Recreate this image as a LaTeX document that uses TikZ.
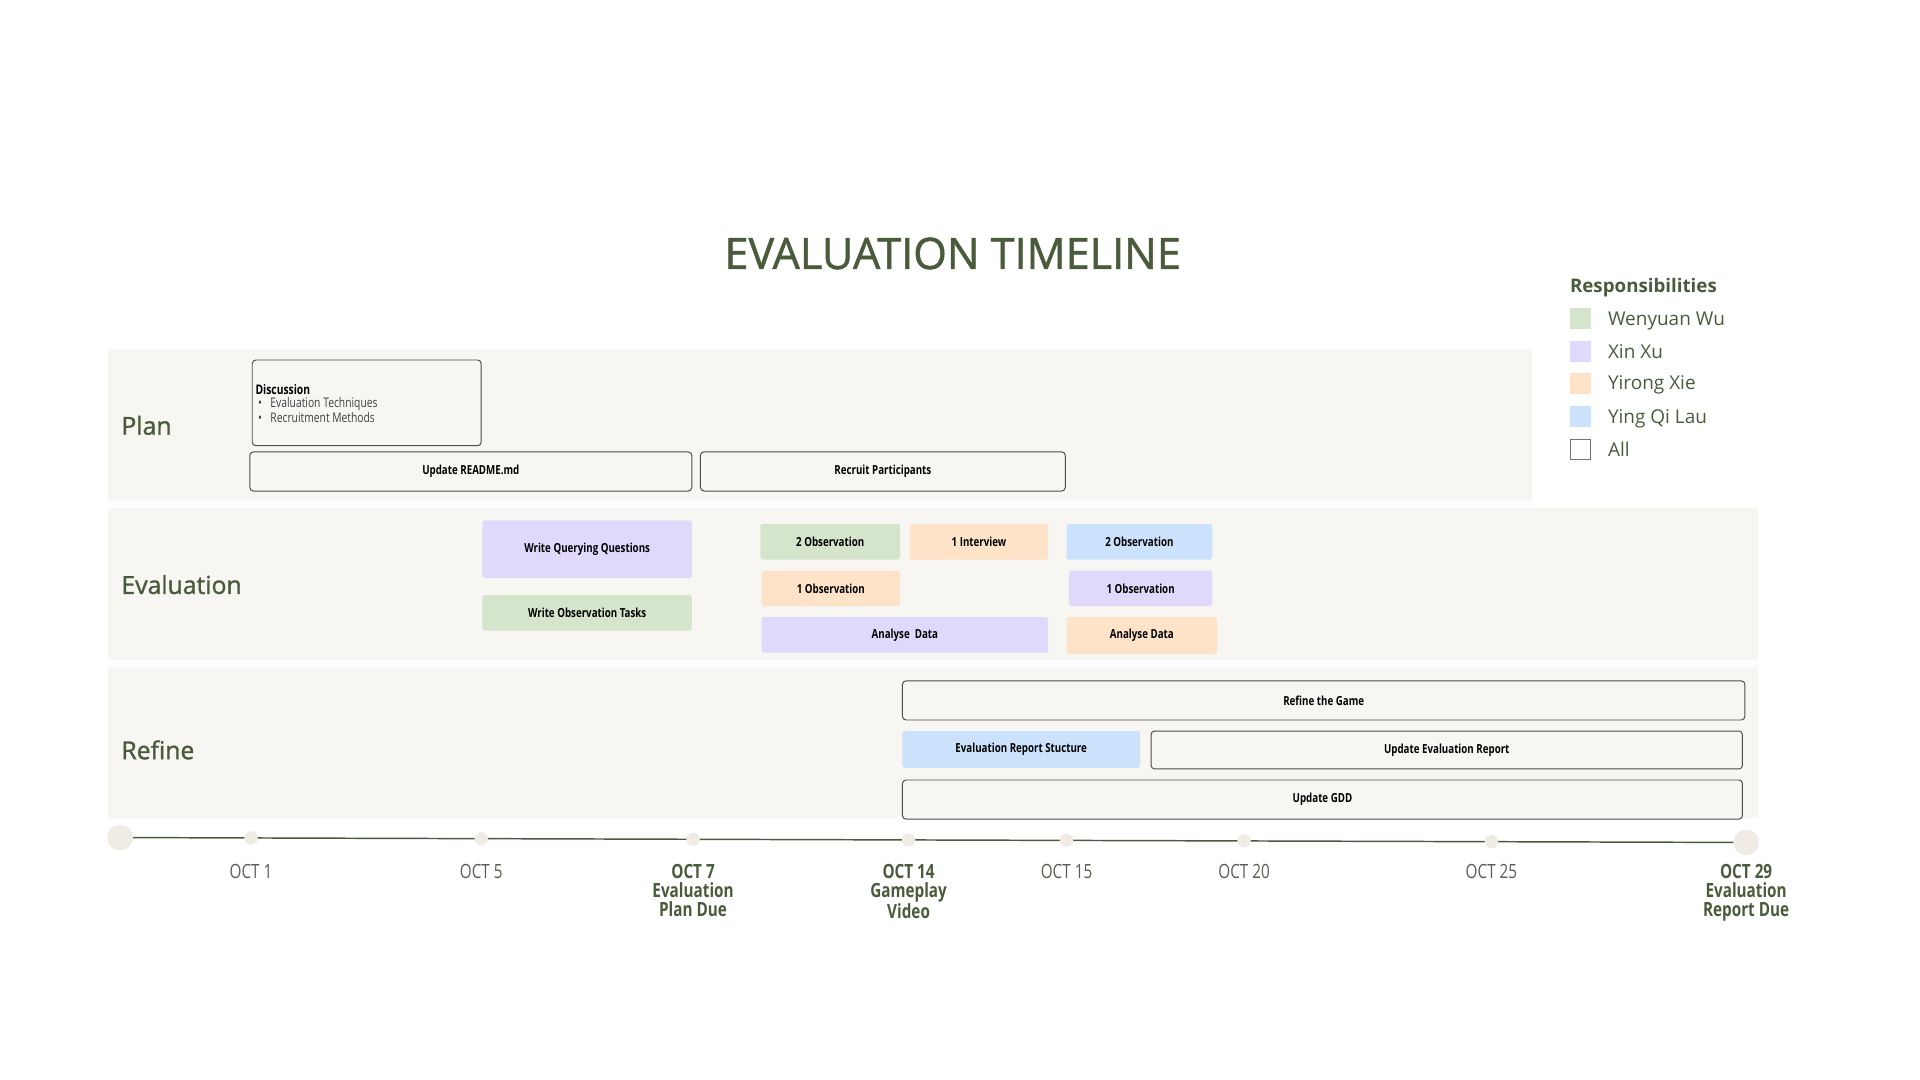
\documentclass[tikz,border=0pt]{standalone}
\usepackage{fontspec}
\setmainfont{Open Sans}
\newfontfamily\estrecha[FakeStretch=0.78]{Open Sans}
\newfontfamily\gruesa[FakeBold=1.2]{Open Sans}
\usetikzlibrary{positioning}
\definecolor{verdeosc}{HTML}{4A5B3B}
\definecolor{grisfecha}{HTML}{585D52}
\definecolor{fondo}{HTML}{F7F6F2}
\definecolor{verde}{HTML}{D5E5CC}
\definecolor{morado}{HTML}{E0D9FB}
\definecolor{naranja}{HTML}{FEE3C9}
\definecolor{azul}{HTML}{CCE2FC}
\definecolor{punto}{HTML}{F0ECE5}
\tikzstyle{panel} = [fill=fondo]
\tikzstyle{etapa} = [text=verdeosc, anchor=base west, inner sep=0pt, font=\gruesa\fontsize{20.2}{24}\selectfont]
\tikzstyle{tarea} = [rectangle, rounded corners=2pt, inner sep=0pt, font=\estrecha\bfseries\fontsize{10.2}{12}\selectfont]
\tikzstyle{todos} = [tarea, draw=black!70, fill=fondo, line width=0.8pt, rounded corners=3pt]
\tikzstyle{hito} = [circle, fill=punto, inner sep=0pt, minimum size=11pt]
\tikzstyle{fecha} = [anchor=north, inner sep=0pt, align=center, text=grisfecha, font=\estrecha\fontsize{16}{15.5}\selectfont]
\tikzstyle{entrega} = [fecha, text=verdeosc, font=\estrecha\bfseries\fontsize{16}{15.5}\selectfont]
\tikzstyle{cuadro} = [rectangle, inner sep=0pt, minimum size=17pt]
\tikzstyle{persona} = [anchor=base west, inner sep=0pt, text=verdeosc, font=\fontsize{15.5}{18}\selectfont]
\begin{document}
\begin{tikzpicture}[x=1pt, y=-1pt]
\useasboundingbox (0,0) rectangle (1568,882);
\node[text=verdeosc, font=\gruesa\fontsize{35.3}{40}\selectfont] (titulo) at (778,207) {EVALUATION TIMELINE};
% paneles
\fill[panel] (88,285) rectangle (1251,409);
\fill[panel] (88,415) rectangle (1436,539);
\fill[panel] (88,545) rectangle (1436,668);
\node[etapa] (plan) at (99,355) {Plan};
\node[etapa] (eval) at (99,485) {Evaluation};
\node[etapa] (refine) at (99,620) {Refine};
% plan
\node[todos, minimum width=187pt, minimum height=70pt] (disc) at (299.5,329) {};
\node[anchor=west, align=left, inner sep=0pt, text=black!75, font=\estrecha\fontsize{10.8}{10.5}\selectfont] (disctxt) at (208.5,329.5) {%
  {\bfseries\color{black}Discussion}\\
  \hspace*{2pt}\textbullet\hspace{7pt}Evaluation Techniques\\
  \hspace*{2pt}\textbullet\hspace{7pt}Recruitment Methods};
\node[todos, minimum width=361pt, minimum height=32pt] (readme) at (384.5,385) {Update README.md};
\node[todos, minimum width=298pt, minimum height=32pt] (recruit) at (721,385) {Recruit Participants};
% evaluation
\node[tarea, fill=morado, minimum width=171pt, minimum height=47pt] (wqq) at (479.5,448.5) {Write Querying Questions};
\node[tarea, fill=verde, minimum width=171pt, minimum height=29pt] (wot) at (479.5,500.5) {Write Observation Tasks};
\node[tarea, fill=verde, minimum width=114pt, minimum height=29pt] (obs2a) at (678,442.5) {2 Observation};
\node[tarea, fill=naranja, minimum width=113pt, minimum height=29pt] (interview) at (799.5,442.5) {1 Interview};
\node[tarea, fill=azul, minimum width=119pt, minimum height=29pt] (obs2b) at (930.5,442.5) {2 Observation};
\node[tarea, fill=naranja, minimum width=113pt, minimum height=29pt] (obs1a) at (678.5,480.5) {1 Observation};
\node[tarea, fill=morado, minimum width=117pt, minimum height=29pt] (obs1b) at (931.5,480.5) {1 Observation};
\node[tarea, fill=morado, minimum width=234pt, minimum height=29pt] (analisisa) at (739,518.5) {Analyse\ \ Data};
\node[tarea, fill=naranja, minimum width=123pt, minimum height=30pt] (analisisb) at (932.5,519) {Analyse Data};
% refine
\node[todos, minimum width=688pt, minimum height=32pt] (game) at (1081,572) {Refine the Game};
\node[tarea, fill=azul, minimum width=194pt, minimum height=30pt] (estructura) at (834,612) {Evaluation Report Stucture};
\node[todos, minimum width=483pt, minimum height=31pt] (report) at (1181.5,612.5) {Update Evaluation Report};
\node[todos, minimum width=686pt, minimum height=32pt] (gdd) at (1080,653) {Update GDD};
% linea de tiempo
\coordinate (inicio) at (98,684);
\coordinate (fin) at (1426,688);
\draw[verdeosc, line width=1.2pt] (inicio) -- (fin);
\node[hito, minimum size=21pt] (h0) at (inicio) {};
\node[hito, minimum size=21pt] (h29) at (fin) {};
\foreach \x/\n in {205/1, 393/5, 566/7, 742/14, 871/15, 1016/20, 1218/25} {
  \pgfmathsetmacro\yy{684+4*(\x-98)/1328}
  \node[hito] (h\n) at (\x,\yy) {};
}
\foreach \x/\n in {205/1, 393/5, 871/15, 1016/20, 1218/25}
  \node[fecha] (f\n) at (\x,705.5) {OCT \n};
\node[entrega] (f7) at (566,705.5) {OCT 7\\Evaluation\\Plan Due};
\node[entrega] (f14) at (742,705.5) {OCT 14\\Gameplay\\Video};
\node[entrega] (f29) at (1426,705.5) {OCT 29\\Evaluation\\Report Due};
% responsabilidades
\node[anchor=base west, inner sep=0pt, text=verdeosc, font=\bfseries\fontsize{15.3}{16}\selectfont] (resp) at (1282,239) {Responsibilities};
\foreach \c/\nombre/\y in {verde/Wenyuan Wu/260, morado/Xin Xu/287, naranja/Yirong Xie/313, azul/Ying Qi Lau/340} {
  \node[cuadro, fill=\c] (c\y) at (1290.5,\y) {};
  \node[persona] (p\y) at (1313,\y+5.5) {\nombre};
}
\node[cuadro, draw=black!55, fill=white, minimum size=16pt] (call) at (1290.5,367) {};
\node[persona] (pall) at (1313,372.5) {All};
\end{tikzpicture}
\end{document}
